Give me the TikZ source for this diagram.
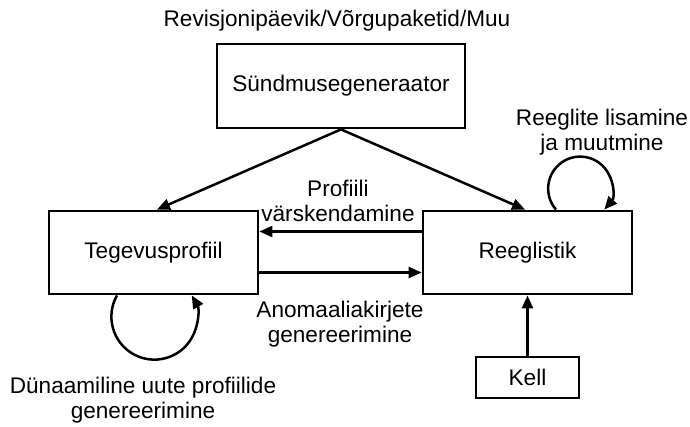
\documentclass[tikz,border=0pt]{standalone}
\usepackage{fontspec}
\setmainfont{Liberation Sans}
\usetikzlibrary{arrows.meta}
\begin{document}
\begin{tikzpicture}[x=1pt,y=-1pt,
  every node/.style={font=\fontsize{22.6}{25.5}\selectfont, inner sep=0pt},
  block/.style={draw, line width=2.8pt, align=center},
  lbl/.style={align=center},
  arr/.style={line width=2.5pt, -{Triangle[length=13pt,width=11pt]}}]
  \useasboundingbox (0,0) rectangle (690,427);

  % main blocks
  \node[block, minimum width=248pt, minimum height=84pt] (gen) at (341,86) {Sündmusegeneraator};
  \node[block, minimum width=209pt, minimum height=83pt] (prof) at (153.5,252.5) {Tegevusprofiil};
  \node[block, minimum width=209pt, minimum height=83pt] (rule) at (527.5,252.5) {Reeglistik};
  \node[block, minimum width=103pt, minimum height=41pt] (kell) at (527.5,377.5) {Kell};

  % text labels
  \node[lbl] (src) at (337,21) {Revisjonipäevik/Võrgupaketid/Muu};
  \node[lbl] (upd) at (338,201) {Profiili\\värskendamine};
  \node[lbl] (anom) at (340,324) {Anomaaliakirjete\\genereerimine};
  \node[lbl] (rlab) at (602,132) {Reeglite lisamine\\ja muutmine};
  \node[lbl] (dyn) at (143,400) {Dünaamiline uute profiilide\\genereerimine};

  % connectors
  \coordinate (profin) at ([xshift=3.5pt]prof.north);
  \coordinate (rulein) at ([xshift=-2.5pt]rule.north);
  \draw[arr] (gen.south) -- (profin);
  \draw[arr] (gen.south) -- (rulein);
  \draw[arr] ([yshift=21pt]rule.west) -- ([yshift=21pt]prof.east);
  \draw[arr] ([yshift=-20pt]prof.west -| prof.east) -- ([yshift=-20pt]rule.west);
  \draw[arr] (kell.north) -- (rule.south);

  % self loops
  \draw[arr] ([xshift=28.5pt]rule.north) arc[start angle=221, end angle=-41, radius=32pt];
  \draw[arr] ([xshift=-36.5pt]prof.south) arc[start angle=150.4, end angle=389.6, radius=43pt];
\end{tikzpicture}
\end{document}
